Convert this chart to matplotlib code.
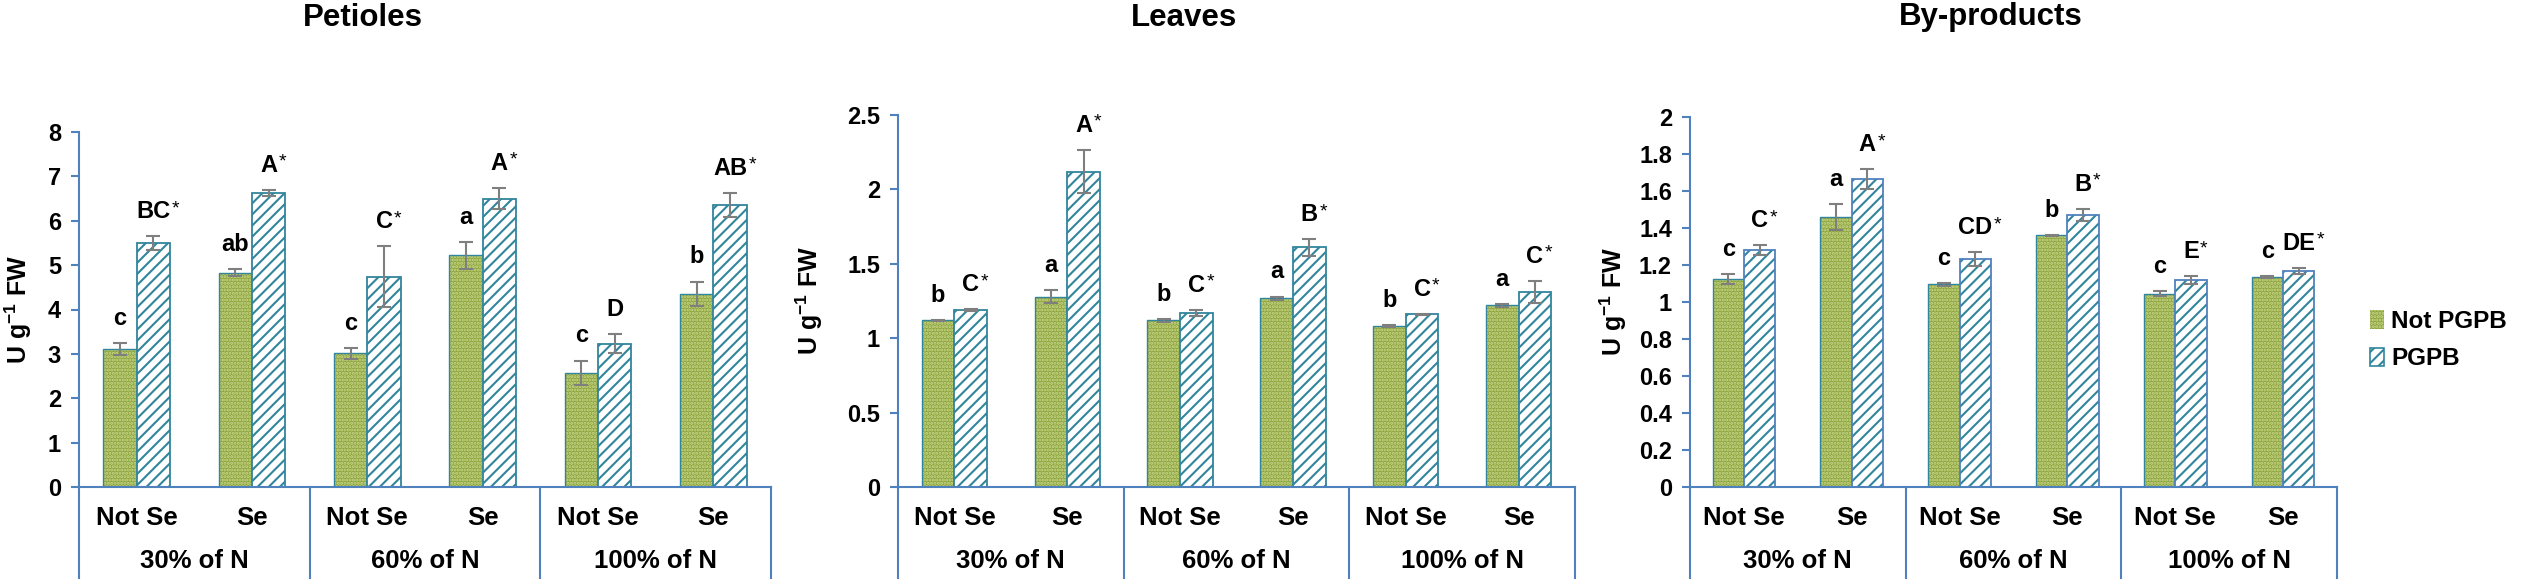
import numpy as np
import matplotlib
matplotlib.use('Agg')
import matplotlib.pyplot as plt
import matplotlib.patches as mpatches

plt.rcParams['font.family'] = ['Liberation Sans', 'DejaVu Sans']
plt.rcParams['font.weight'] = 'bold'
plt.rcParams['mathtext.fontset'] = 'custom'
plt.rcParams['mathtext.rm'] = 'Liberation Sans:bold'
plt.rcParams['mathtext.default'] = 'rm'
plt.rcParams['hatch.linewidth'] = 1.5

# categories
groups = ['30% of N', '60% of N', '100% of N']
se_levels = ['Not Se', 'Se']
series = ['Not PGPB', 'PGPB']
titles = ['Petioles', 'Leaves', 'By-products']

# Petioles
pet_not = [3.11, 4.83, 3.01, 5.22, 2.57, 4.36]
pet_not_err = [0.14, 0.08, 0.13, 0.31, 0.28, 0.27]
pet_pgpb = [5.50, 6.63, 4.74, 6.50, 3.23, 6.36]
pet_pgpb_err = [0.15, 0.07, 0.68, 0.24, 0.22, 0.27]
pet_not_lab = ['c', 'ab', 'c', 'a', 'c', 'b']
pet_pgpb_lab = ['BC*', 'A*', 'C*', 'A*', 'D', 'AB*']

# Leaves
leaf_not = [1.12, 1.28, 1.12, 1.27, 1.08, 1.22]
leaf_not_err = [0.005, 0.045, 0.008, 0.01, 0.008, 0.007]
leaf_pgpb = [1.19, 2.12, 1.17, 1.61, 1.16, 1.31]
leaf_pgpb_err = [0.005, 0.145, 0.022, 0.055, 0.003, 0.075]
leaf_not_lab = ['b', 'a', 'b', 'a', 'b', 'a']
leaf_pgpb_lab = ['C*', 'A*', 'C*', 'B*', 'C*', 'C*']

# By-products
byp_not = [1.125, 1.46, 1.095, 1.36, 1.045, 1.135]
byp_not_err = [0.027, 0.07, 0.008, 0.003, 0.015, 0.003]
byp_pgpb = [1.28, 1.665, 1.232, 1.47, 1.12, 1.168]
byp_pgpb_err = [0.026, 0.052, 0.036, 0.034, 0.02, 0.016]
byp_not_lab = ['c', 'a', 'c', 'b', 'c', 'c']
byp_pgpb_lab = ['C*', 'A*', 'CD*', 'B*', 'E*', 'DE*']

y_max = [8, 2.5, 2]
y_step = [1, 0.5, 0.2]

panels = [
    (pet_not, pet_not_err, pet_pgpb, pet_pgpb_err, pet_not_lab, pet_pgpb_lab),
    (leaf_not, leaf_not_err, leaf_pgpb, leaf_pgpb_err, leaf_not_lab, leaf_pgpb_lab),
    (byp_not, byp_not_err, byp_pgpb, byp_pgpb_err, byp_not_lab, byp_pgpb_lab),
]

# layout in pixels (x0, x1, ytop, ybottom), title x, ylabel x
W, H = 2525, 585
boxes = [(79, 771, 132, 487), (898, 1575, 115, 487), (1690, 2337, 117, 487)]
title_x = [363, 1184, 1991]
ylabel_x = [18, 809, 1613]

green = '#8DA33B'
green_dots = '#C9D98F'
teal = '#31859C'
axis_blue = '#4F81BD'
err_grey = '#7F7F7F'
pgpb_edge = [teal, teal, '#4F81BD']

fig = plt.figure(figsize=(W / 100, H / 100), dpi=100)

x = np.arange(6) + 0.5
bw = 0.29

for i, (vals_n, err_n, vals_p, err_p, lab_n, lab_p) in enumerate(panels):
    x0, x1, yt, yb = boxes[i]
    ax = fig.add_axes([x0 / W, 1 - yb / H, (x1 - x0) / W, (yb - yt) / H])
    h_px = yb - yt

    ax.bar(x - bw / 2, vals_n, bw, color=green, edgecolor=green_dots, hatch='.....', linewidth=0)
    ax.bar(x - bw / 2, vals_n, bw, fill=False, edgecolor=teal, linewidth=1.0)
    ax.bar(x + bw / 2, vals_p, bw, color='white', edgecolor=teal, hatch='///', linewidth=0)
    ax.bar(x + bw / 2, vals_p, bw, fill=False, edgecolor=pgpb_edge[i], linewidth=1.3)

    ax.errorbar(x - bw / 2, vals_n, yerr=err_n, fmt='none', ecolor=err_grey, elinewidth=1.5, capsize=5, capthick=1.5)
    ax.errorbar(x + bw / 2, vals_p, yerr=err_p, fmt='none', ecolor=err_grey, elinewidth=1.5, capsize=5, capthick=1.5)

    # significance letters
    for j in range(6):
        ax.annotate(lab_n[j], xy=(x[j] - bw / 2, vals_n[j] + err_n[j]), xytext=(0, 13),
                    textcoords='offset points', ha='center', va='baseline', fontsize=17, fontweight='bold')
        txt = lab_p[j].rstrip('*')
        t = ax.annotate(txt, xy=(x[j] + bw / 2, vals_p[j] + err_p[j]), xytext=(0, 13),
                        textcoords='offset points', ha='center', va='baseline', fontsize=17, fontweight='bold')
        if lab_p[j].endswith('*'):
            ax.annotate('*', xy=(1.0, 1.0), xycoords=t, xytext=(1, 0), textcoords='offset points',
                        ha='left', va='top', fontsize=14, fontweight='normal')

    ax.set_xlim(0, 6)
    ax.set_ylim(0, y_max[i])
    ax.set_yticks(np.round(np.arange(0, y_max[i] + y_step[i] / 2, y_step[i]), 2))
    ax.yaxis.set_major_formatter(matplotlib.ticker.FormatStrFormatter('%g'))
    ax.set_xticks([])
    ax.tick_params(axis='y', direction='out', length=6, width=1.5, color=axis_blue, pad=7, labelsize=17)
    for lab in ax.get_yticklabels():
        lab.set_fontweight('bold')

    for s in ['top', 'right']:
        ax.spines[s].set_visible(False)
    ax.spines['left'].set_color(axis_blue)
    ax.spines['bottom'].set_color(axis_blue)
    ax.spines['left'].set_linewidth(1.5)
    ax.spines['bottom'].set_linewidth(1.5)

    # multi-level category axis
    depth = 91 / h_px
    for xs in [0, 2, 4, 6]:
        ax.plot([xs, xs], [0, -depth], transform=ax.get_xaxis_transform(), color=axis_blue,
                linewidth=1.5, clip_on=False)
    for j in range(6):
        ax.annotate(se_levels[j % 2], xy=(x[j], 0), xycoords=('data', 'axes fraction'), xytext=(0, -22),
                    textcoords='offset points', ha='center', va='center', fontsize=18.5, fontweight='bold')
    for g in range(3):
        ax.annotate(groups[g], xy=(2 * g + 1, 0), xycoords=('data', 'axes fraction'), xytext=(0, -53.5),
                    textcoords='offset points', ha='center', va='center', fontsize=18.5, fontweight='bold')

    fig.text(title_x[i] / W, 1 - 17.5 / H, titles[i], ha='center', va='center', fontsize=22.5, fontweight='bold')
    fig.text(ylabel_x[i] / W, 1 - (yt + yb) / 2 / H, 'U g$^{-1}$ FW', rotation=90, ha='center', va='center',
             fontsize=18, fontweight='bold')

handles = [mpatches.Patch(facecolor=green, edgecolor=green_dots, hatch='.....', linewidth=0),
           mpatches.Patch(facecolor='white', edgecolor=teal, hatch='///', linewidth=1.2)]
fig.legend(handles, series, loc='center left', bbox_to_anchor=(2370 / W, 1 - 340 / H), frameon=False,
           prop={'size': 17.5, 'weight': 'bold'}, handlelength=0.57, handleheight=0.8, handletextpad=0.3,
           labelspacing=0.6, borderpad=0, borderaxespad=0)

fig.savefig('out.png', dpi=100)
